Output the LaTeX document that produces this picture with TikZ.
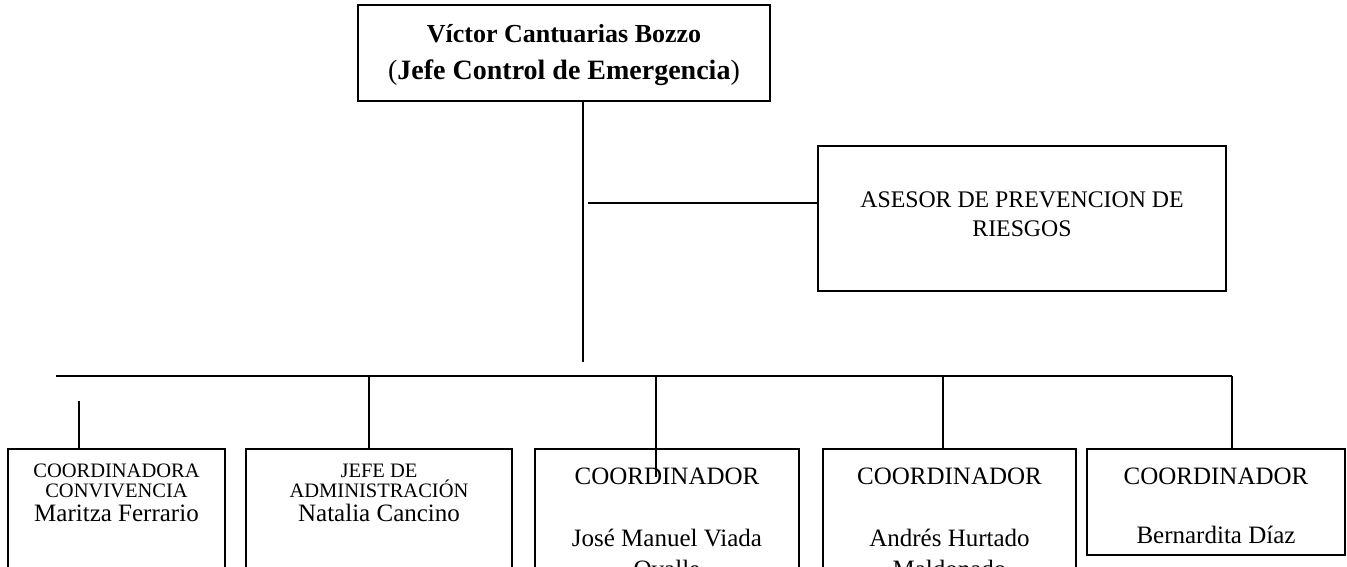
\documentclass[tikz,border=0pt]{standalone}
\usepackage{fontspec}
\setmainfont{Liberation Serif}
\begin{document}
\begin{tikzpicture}[x=1pt,y=-1pt,
  box/.style={draw, line width=2pt, rectangle, inner sep=0pt},
  conn/.style={line width=2pt},
  txt/.style={anchor=base, inner sep=0pt},
  big/.style={font=\fontsize{26}{30}\selectfont},
  bigb/.style={font=\fontsize{28}{32}\selectfont},
  mid/.style={font=\fontsize{25}{29}\selectfont},
  ase/.style={font=\fontsize{23.8}{27}\selectfont},
  sml/.style={font=\fontsize{20.5}{24}\selectfont}]
\clip (0,0) rectangle (1347,566);
\fill[white] (0,0) rectangle (1347,566);
% boxes
\node[box, minimum width=412pt, minimum height=96pt] (jefe) at (564,53) {};
\node[box, minimum width=408pt, minimum height=145pt] (asesor) at (1022,218.5) {};
\node[box, minimum width=217pt, minimum height=190pt] (b1) at (116.5,544) {};
\node[box, minimum width=266pt, minimum height=190pt] (b2) at (379,544) {};
\node[box, minimum width=264pt, minimum height=190pt] (b3) at (667,544) {};
\node[box, minimum width=253pt, minimum height=190pt] (b4) at (949.5,544) {};
\node[box, minimum width=258pt, minimum height=106pt] (b5) at (1216,502) {};
% texts
\node[txt, big] (j1) at (564,42) {\textbf{Víctor Cantuarias Bozzo}};
\node[txt, bigb] (j2) at (564,79) {(\textbf{Jefe Control de Emergencia})};
\node[txt, ase] (a1) at (1022,207) {ASESOR DE PREVENCION DE};
\node[txt, ase] (a2) at (1022,236) {RIESGOS};
\node[txt, sml] (t1a) at (116.5,477) {COORDINADORA};
\node[txt, sml] (t1b) at (116.5,497) {CONVIVENCIA};
\node[txt, mid] (t1c) at (116.5,521) {Maritza Ferrario};
\node[txt, sml] (t2a) at (379,477) {JEFE DE};
\node[txt, sml] (t2b) at (379,497) {ADMINISTRACIÓN};
\node[txt, mid] (t2c) at (379,521) {Natalia Cancino};
\node[txt, mid] (t3a) at (667,484) {COORDINADOR};
\node[txt, mid] (t3b) at (667,546) {José Manuel Viada};
\node[txt, mid] (t3c) at (667,577) {Ovalle};
\node[txt, mid] (t4a) at (949.5,484) {COORDINADOR};
\node[txt, mid] (t4b) at (949.5,546) {Andrés Hurtado};
\node[txt, mid] (t4c) at (949.5,577) {Maldonado};
\node[txt, mid] (t5a) at (1216,484) {COORDINADOR};
\node[txt, mid] (t5b) at (1216,543) {Bernardita Díaz};
% connectors
\coordinate (trunkend) at (583,362);
\draw[conn] (jefe.south -| trunkend) -- (trunkend);
\coordinate (asbr) at (588,203);
\draw[conn] (asbr) -- (asbr -| asesor.west);
\coordinate (busL) at (56,376);
\coordinate (busR) at (1232,376);
\draw[conn] (busL) -- (busR);
\coordinate (d1) at (79,401);
\draw[conn] (d1) -- (d1 |- b1.north);
\coordinate (d2) at (369,376);
\draw[conn] (d2) -- (d2 |- b2.north);
\coordinate (d3) at (656,376);
\coordinate (d3e) at (656,477);
\draw[conn] (d3) -- (d3e);
\coordinate (d4) at (943,376);
\draw[conn] (d4) -- (d4 |- b4.north);
\draw[conn] (busR) -- (busR |- b5.north);
\end{tikzpicture}
\end{document}
